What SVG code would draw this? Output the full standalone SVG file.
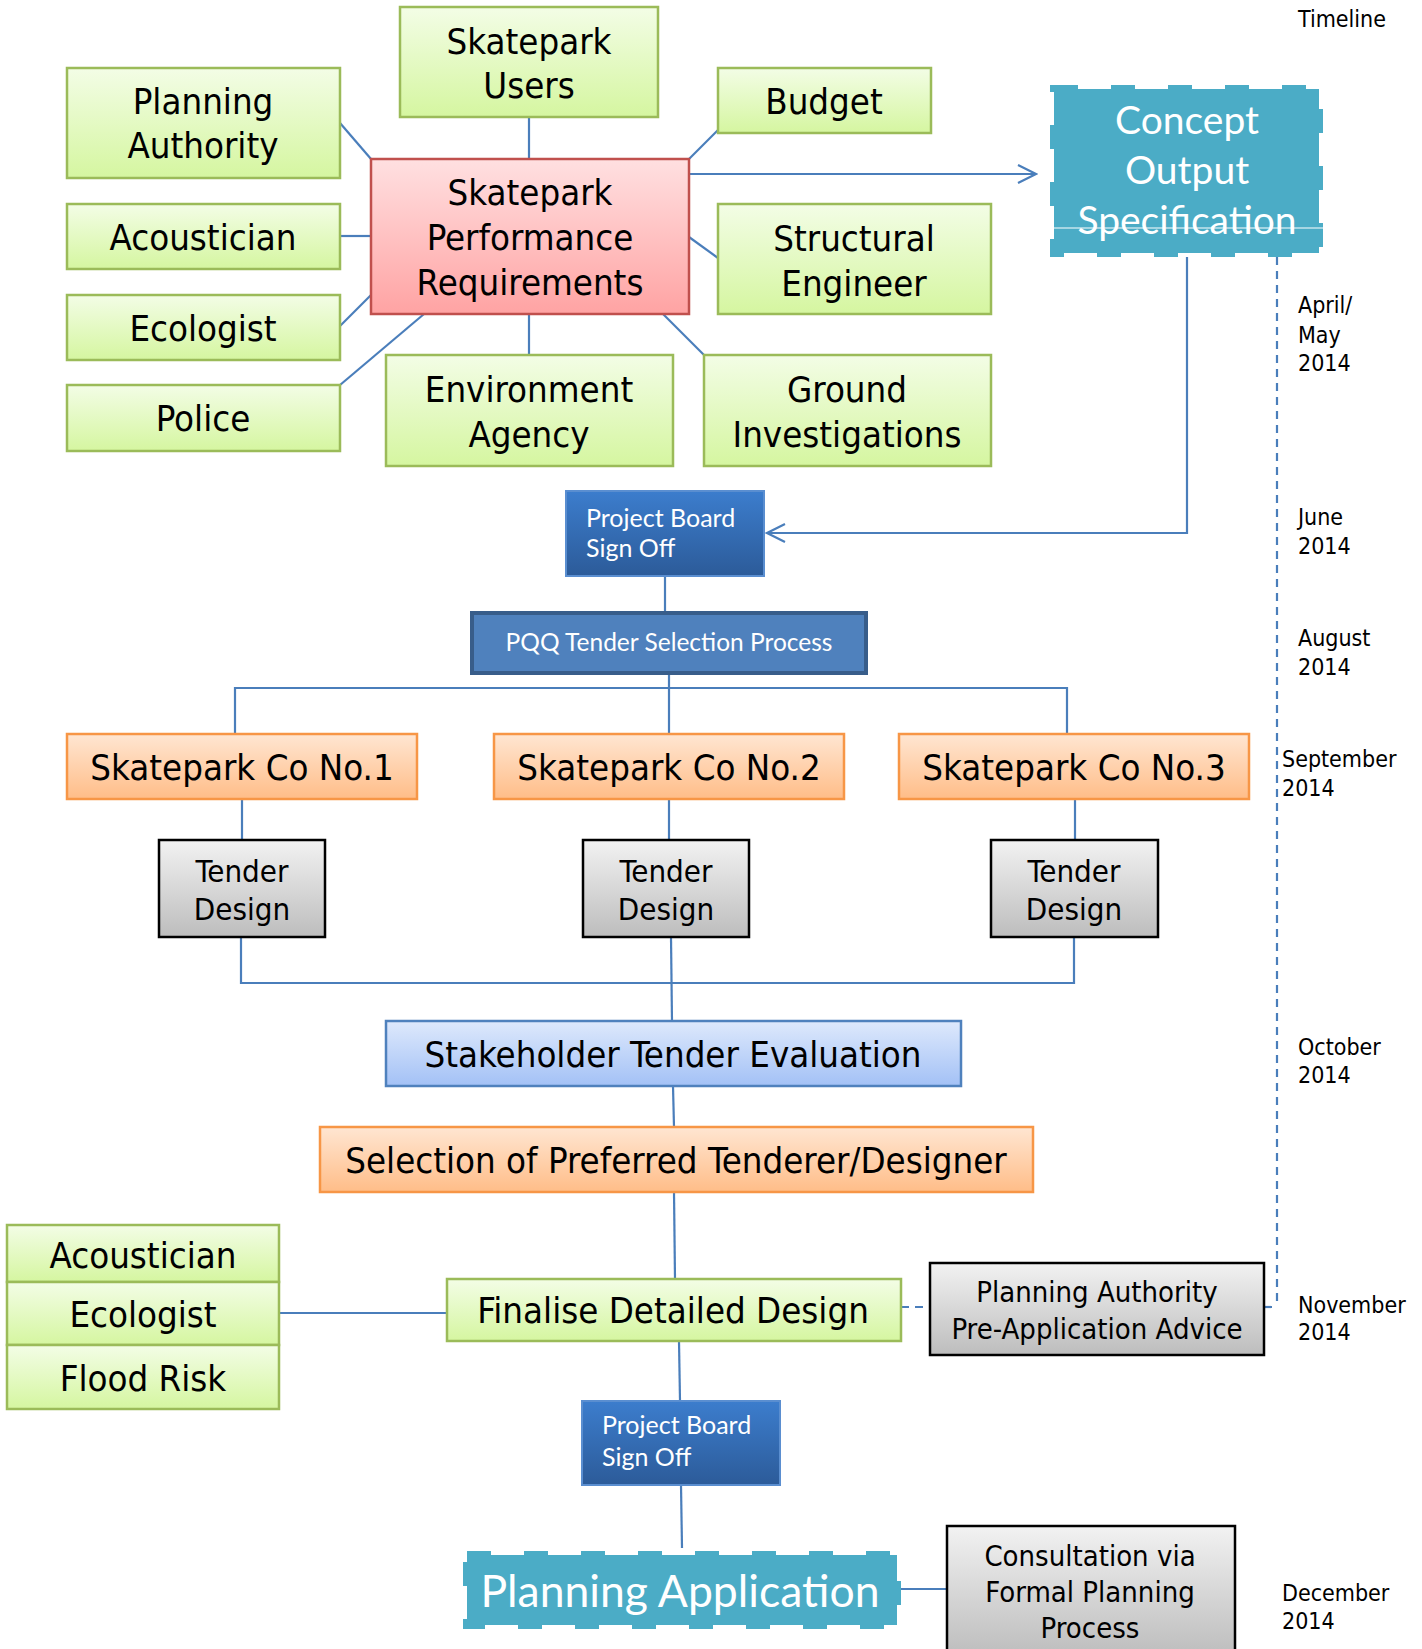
<svg xmlns="http://www.w3.org/2000/svg" width="1422" height="1649" viewBox="0 0 1422 1649">
<defs>
<linearGradient id="gGreen" x1="0" y1="0" x2="0" y2="1"><stop offset="0" stop-color="#F3FDE6"/><stop offset="1" stop-color="#D5F6A0"/></linearGradient>
<linearGradient id="gRed" x1="0" y1="0" x2="0" y2="1"><stop offset="0" stop-color="#FFE0E1"/><stop offset="1" stop-color="#FFA3A3"/></linearGradient>
<linearGradient id="gOrange" x1="0" y1="0" x2="0" y2="1"><stop offset="0" stop-color="#FFE6D2"/><stop offset="1" stop-color="#FFBD88"/></linearGradient>
<linearGradient id="gGray" x1="0" y1="0" x2="0" y2="1"><stop offset="0" stop-color="#F2F2F2"/><stop offset="1" stop-color="#BDBDBD"/></linearGradient>
<linearGradient id="gLBlue" x1="0" y1="0" x2="0" y2="1"><stop offset="0" stop-color="#DEE9FC"/><stop offset="1" stop-color="#A3C1F6"/></linearGradient>
<linearGradient id="gDBlue" x1="0" y1="0" x2="0" y2="1"><stop offset="0" stop-color="#3C7DCD"/><stop offset="1" stop-color="#2C5B99"/></linearGradient>
<marker id="open" markerWidth="22" markerHeight="22" refX="20" refY="11" orient="auto" markerUnits="userSpaceOnUse"><path d="M2,2 L20,11 L2,20" fill="none" stroke="#4A7EBB" stroke-width="2.2"/></marker>
</defs>
<style>
.t{font-family:"DejaVu Sans Condensed","DejaVu Sans",sans-serif;fill:#000;text-anchor:middle}
.b35{font-size:36.3px}
.b30{font-size:31px}
.b29{font-size:29px}
.d{font-family:"DejaVu Sans Condensed","DejaVu Sans",sans-serif;font-size:23px;fill:#000}
.c{font-family:Lato,"Liberation Sans",sans-serif;fill:#fff}
.green{fill:url(#gGreen);stroke:#9BBB59;stroke-width:2.5}
.red{fill:url(#gRed);stroke:#C0504D;stroke-width:2.5}
.orange{fill:url(#gOrange);stroke:#F79646;stroke-width:2.5}
.gray{fill:url(#gGray);stroke:#000;stroke-width:2.5}
.lblue{fill:url(#gLBlue);stroke:#4F81BD;stroke-width:2.5}
.dblue{fill:url(#gDBlue);stroke:#5A8ED0;stroke-width:2}
.teal{fill:#4BACC6;stroke:#4BACC6;stroke-width:8;stroke-dasharray:24 33}
.ln{fill:none;stroke:#4A7EBB;stroke-width:2.2}
.dash{fill:none;stroke:#4A7EBB;stroke-width:2.2;stroke-dasharray:8 6}
</style>

<g id="connectors">
<line class="ln" x1="340" y1="123" x2="371" y2="159"/>
<line class="ln" x1="529" y1="117" x2="529" y2="159"/>
<line class="ln" x1="689" y1="159" x2="718" y2="130"/>
<line class="ln" x1="340" y1="236" x2="371" y2="236"/>
<line class="ln" x1="340" y1="326" x2="371" y2="295"/>
<line class="ln" x1="340" y1="385" x2="424" y2="314"/>
<line class="ln" x1="529" y1="314" x2="529" y2="355"/>
<line class="ln" x1="689" y1="237" x2="718" y2="258"/>
<line class="ln" x1="663" y1="314" x2="704" y2="355"/>
<line class="ln" x1="689" y1="174" x2="1036" y2="174" marker-end="url(#open)"/>
<polyline class="ln" points="1187,257 1187,533 767,533" marker-end="url(#open)"/>
<line class="ln" x1="665" y1="576" x2="665" y2="612"/>
<polyline class="ln" points="235,734 235,688 1067,688 1067,734"/>
<line class="ln" x1="669" y1="674" x2="669" y2="734"/>
<line class="ln" x1="242" y1="799" x2="242" y2="840"/>
<line class="ln" x1="669" y1="799" x2="669" y2="840"/>
<line class="ln" x1="1075" y1="799" x2="1075" y2="840"/>
<polyline class="ln" points="241,937 241,983 1074,983 1074,937"/>
<line class="ln" x1="671" y1="937" x2="672" y2="1021"/>
<line class="ln" x1="673" y1="1086" x2="674" y2="1127"/>
<line class="ln" x1="674" y1="1192" x2="675" y2="1279"/>
<line class="ln" x1="279" y1="1313" x2="447" y2="1313"/>
<line class="ln" x1="679" y1="1341" x2="680" y2="1401"/>
<line class="ln" x1="681" y1="1485" x2="682" y2="1548"/>
<line class="ln" x1="900" y1="1589" x2="948" y2="1589" stroke-width="3"/>
<line class="dash" x1="1277" y1="257" x2="1277" y2="1307"/>
<line class="dash" x1="901" y1="1307" x2="930" y2="1307"/>
<line class="dash" x1="1264" y1="1307" x2="1277" y2="1307"/>
</g>

<g id="planning-authority"><rect class="green" x="67" y="68" width="273" height="110"/><text class="t b35" x="203" y="114">Planning</text><text class="t b35" x="203" y="158">Authority</text></g>
<g id="skatepark-users"><rect class="green" x="400" y="7" width="258" height="110"/><text class="t b35" x="529" y="54">Skatepark</text><text class="t b35" x="529" y="98">Users</text></g>
<g id="budget"><rect class="green" x="718" y="68" width="213" height="65"/><text class="t b35" x="824" y="114">Budget</text></g>
<g id="acoustician"><rect class="green" x="67" y="204" width="273" height="65"/><text class="t b35" x="203" y="250">Acoustician</text></g>
<g id="ecologist"><rect class="green" x="67" y="295" width="273" height="65"/><text class="t b35" x="203" y="341">Ecologist</text></g>
<g id="police"><rect class="green" x="67" y="385" width="273" height="66"/><text class="t b35" x="203" y="431">Police</text></g>
<g id="performance-requirements"><rect class="red" x="371" y="159" width="318" height="155"/><text class="t b35" x="530" y="205">Skatepark</text><text class="t b35" x="530" y="250">Performance</text><text class="t b35" x="530" y="295">Requirements</text></g>
<g id="structural-engineer"><rect class="green" x="718" y="204" width="273" height="110"/><text class="t b35" x="854" y="251">Structural</text><text class="t b35" x="854" y="296">Engineer</text></g>
<g id="environment-agency"><rect class="green" x="386" y="355" width="287" height="111"/><text class="t b35" x="529" y="402">Environment</text><text class="t b35" x="529" y="447">Agency</text></g>
<g id="ground-investigations"><rect class="green" x="704" y="355" width="287" height="111"/><text class="t b35" x="847" y="402">Ground</text><text class="t b35" x="847" y="447">Investigations</text></g>

<g id="concept-output-specification"><rect class="teal" x="1054" y="89" width="265" height="164"/><line x1="1054" y1="228" x2="1323" y2="228" stroke="#fff" stroke-width="1.2"/><g class="c" font-size="39" text-anchor="middle"><text x="1187" y="134">Concept</text><text x="1187" y="184">Output</text><text x="1187" y="234">Specification</text></g></g>

<g id="project-board-1"><rect class="dblue" x="566" y="491" width="198" height="85"/><g class="c" font-size="25"><text x="586" y="527">Project Board</text><text x="586" y="557">Sign Off</text></g></g>
<g id="pqq"><rect x="472" y="613" width="394" height="60" fill="#4F81BD" stroke="#385D8A" stroke-width="4"/><text class="c" font-size="24.5" x="669" y="651" text-anchor="middle">PQQ Tender Selection Process</text></g>

<g id="co1"><rect class="orange" x="67" y="734" width="350" height="65"/><text class="t b35" x="242" y="780">Skatepark Co No.1</text></g>
<g id="co2"><rect class="orange" x="494" y="734" width="350" height="65"/><text class="t b35" x="669" y="780">Skatepark Co No.2</text></g>
<g id="co3"><rect class="orange" x="899" y="734" width="350" height="65"/><text class="t b35" x="1074" y="780">Skatepark Co No.3</text></g>

<g id="tender1"><rect class="gray" x="159" y="840" width="166" height="97"/><text class="t b30" x="242" y="882">Tender</text><text class="t b30" x="242" y="920">Design</text></g>
<g id="tender2"><rect class="gray" x="583" y="840" width="166" height="97"/><text class="t b30" x="666" y="882">Tender</text><text class="t b30" x="666" y="920">Design</text></g>
<g id="tender3"><rect class="gray" x="991" y="840" width="167" height="97"/><text class="t b30" x="1074" y="882">Tender</text><text class="t b30" x="1074" y="920">Design</text></g>

<g id="stakeholder-evaluation"><rect class="lblue" x="386" y="1021" width="575" height="65"/><text class="t b35" x="673" y="1067">Stakeholder Tender Evaluation</text></g>
<g id="selection"><rect class="orange" x="320" y="1127" width="713" height="65"/><text class="t b35" x="676" y="1173">Selection of Preferred Tenderer/Designer</text></g>

<g id="stack-acoustician"><rect class="green" x="7" y="1225" width="272" height="57"/><text class="t b35" x="143" y="1268">Acoustician</text></g>
<g id="stack-ecologist"><rect class="green" x="7" y="1282" width="272" height="63"/><text class="t b35" x="143" y="1327">Ecologist</text></g>
<g id="stack-flood-risk"><rect class="green" x="7" y="1345" width="272" height="64"/><text class="t b35" x="143" y="1391">Flood Risk</text></g>

<g id="finalise"><rect class="green" x="447" y="1279" width="454" height="62"/><text class="t b35" x="673" y="1323">Finalise Detailed Design</text></g>
<g id="pre-app"><rect class="gray" x="930" y="1263" width="334" height="92"/><text class="t b29" x="1097" y="1302">Planning Authority</text><text class="t b29" x="1097" y="1339">Pre-Application Advice</text></g>

<g id="project-board-2"><rect class="dblue" x="582" y="1401" width="198" height="84"/><g class="c" font-size="25"><text x="602" y="1434">Project Board</text><text x="602" y="1466">Sign Off</text></g></g>

<g id="planning-application"><rect class="teal" x="467" y="1555" width="430" height="70"/><text class="c" font-size="44.5" x="680" y="1607" text-anchor="middle">Planning Application</text></g>
<g id="consultation"><rect class="gray" x="947" y="1526" width="288" height="130"/><text class="t b29" x="1090" y="1566">Consultation via</text><text class="t b29" x="1090" y="1602">Formal Planning</text><text class="t b29" x="1090" y="1638">Process</text></g>

<g id="timeline">
<text class="d" x="1298" y="27" font-size="24">Timeline</text>
<text class="d" x="1298" y="313">April/</text><text class="d" x="1298" y="343">May</text><text class="d" x="1298" y="371">2014</text>
<text class="d" x="1298" y="525">June</text><text class="d" x="1298" y="554">2014</text>
<text class="d" x="1298" y="646">August</text><text class="d" x="1298" y="675">2014</text>
<text class="d" x="1282" y="767">September</text><text class="d" x="1282" y="796">2014</text>
<text class="d" x="1298" y="1055">October</text><text class="d" x="1298" y="1083">2014</text>
<text class="d" x="1298" y="1313">November</text><text class="d" x="1298" y="1340">2014</text>
<text class="d" x="1282" y="1601">December</text><text class="d" x="1282" y="1629">2014</text>
</g>
</svg>
